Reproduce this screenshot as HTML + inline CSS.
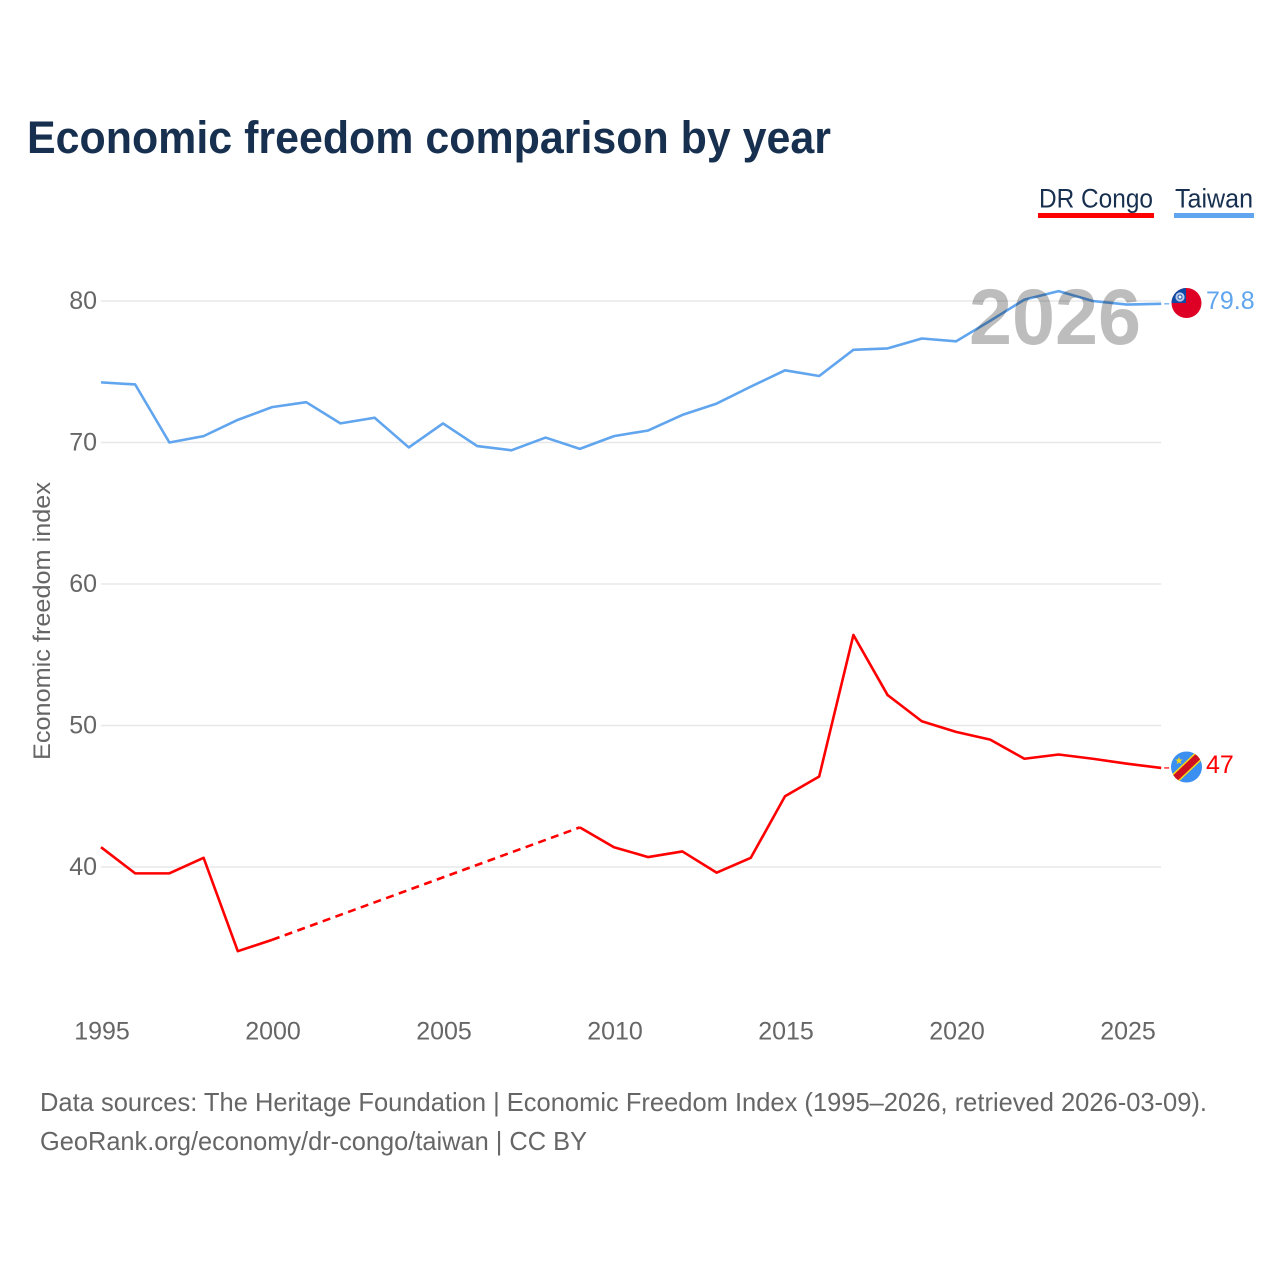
<!DOCTYPE html>
<html lang="en">
<head>
<meta charset="utf-8">
<title>Economic freedom comparison by year</title>
<style>
html,body{margin:0;padding:0;background:#fff}
svg{display:block}
text{font-family:"Liberation Sans",sans-serif}
</style>
</head>
<body>
<svg id="chart" xmlns="http://www.w3.org/2000/svg" width="1280" height="1280" viewBox="0 0 1280 1280">
  <defs>
    <clipPath id="clip-tw"><circle cx="1186.5" cy="303" r="15"/></clipPath>
    <clipPath id="clip-cd"><circle cx="1186.5" cy="767" r="15.5"/></clipPath>
  </defs>
  <rect x="0" y="0" width="1280" height="1280" fill="#fff"/>
  <text x="27" y="153" font-size="45.5" font-weight="700" fill="#18304f" textLength="804" lengthAdjust="spacingAndGlyphs">Economic freedom comparison by year</text>

  <g>
    <text x="1039" y="207.5" font-size="27" fill="#18304f" textLength="114" lengthAdjust="spacingAndGlyphs">DR Congo</text>
    <rect x="1038" y="213" width="116" height="5" fill="#ff0000"/>
  </g>
  <g>
    <text x="1175" y="207.5" font-size="27" fill="#18304f" textLength="78" lengthAdjust="spacingAndGlyphs">Taiwan</text>
    <rect x="1174" y="213" width="80" height="5" fill="#60a5ee"/>
  </g>

  <text transform="translate(50,621) rotate(-90)" text-anchor="middle" font-size="24" fill="#666" textLength="278" lengthAdjust="spacingAndGlyphs">Economic freedom index</text>

  <g id="grid"></g>
  <g id="y-ticks"></g>
  <g id="x-ticks"></g>
  <g id="series"></g>

  <text x="969" y="344" font-size="79" font-weight="700" fill="#000" fill-opacity="0.26" textLength="172" lengthAdjust="spacingAndGlyphs">2026</text>

  <g clip-path="url(#clip-tw)">
    <rect x="1170" y="287" width="33" height="33" fill="#de0025"/>
    <rect x="1170" y="287" width="16" height="16" fill="#0d4aa6"/>
    <circle cx="1180" cy="297" r="4.6" fill="#b9cbe8"/>
    <circle cx="1180" cy="297" r="2.6" fill="#2a62b4"/>
    <circle cx="1180" cy="297" r="1.5" fill="#f2f5fb"/>
  </g>
  <g clip-path="url(#clip-cd)">
    <rect x="1170" y="750" width="33" height="33" fill="#3a8ff0"/>
    <line x1="1168" y1="785" x2="1205" y2="750" stroke="#f7d618" stroke-width="10"/>
    <line x1="1168" y1="785" x2="1205" y2="750" stroke="#ce1021" stroke-width="7"/>
    <text x="1179" y="764" text-anchor="middle" font-size="10" fill="#f7d618" style="font-family:'DejaVu Sans',sans-serif">★</text>
  </g>
  <g id="end-labels"></g>

  <text x="40" y="1111" font-size="26" fill="#666" textLength="1167" lengthAdjust="spacingAndGlyphs">Data sources: The Heritage Foundation | Economic Freedom Index (1995–2026, retrieved 2026-03-09).</text>
  <text x="40" y="1150" font-size="26" fill="#666" textLength="547" lengthAdjust="spacingAndGlyphs">GeoRank.org/economy/dr-congo/taiwan | CC BY</text>
</svg>
<script>
const years = [1995,1996,1997,1998,1999,2000,2001,2002,2003,2004,2005,2006,2007,2008,2009,2010,2011,2012,2013,2014,2015,2016,2017,2018,2019,2020,2021,2022,2023,2024,2025,2026];
const taiwanValues = [74.25,74.1,70.0,70.45,71.6,72.5,72.85,71.35,71.75,69.65,71.35,69.75,69.45,70.35,69.55,70.45,70.85,71.95,72.75,73.95,75.1,74.7,76.55,76.65,77.35,77.15,78.6,80.1,80.7,80.0,79.75,79.8];
const congoValues = [41.4,39.55,39.55,40.65,34.05,34.85,null,null,null,null,null,null,null,null,42.8,41.4,40.7,41.1,39.6,40.65,45.0,46.4,56.4,52.15,50.3,49.55,49.0,47.65,47.95,47.65,47.3,47.0];
const yTickValues = [40,50,60,70,80];
const xTickValues = [1995,2000,2005,2010,2015,2020,2025];
const taiwanColor = '#60a5ee';
const congoColor = '#ff0000';

const NS = 'http://www.w3.org/2000/svg';
function xScale(year){ return 101 + (year - 1995) * 34.2; }
function yScale(value){ return 301 + (80 - value) * 14.15; }
function make(tag, parent, attrs, content){
  const el = document.createElementNS(NS, tag);
  for (const k in attrs) el.setAttribute(k, attrs[k]);
  if (content !== undefined) el.textContent = content;
  parent.appendChild(el);
  return el;
}
const gridLayer = document.getElementById('grid');
const yTickLayer = document.getElementById('y-ticks');
const xTickLayer = document.getElementById('x-ticks');
const seriesLayer = document.getElementById('series');
const labelLayer = document.getElementById('end-labels');

yTickValues.forEach(function(v){
  const line = make('line', gridLayer, {x1:xScale(1995), x2:xScale(2026), y1:yScale(v), y2:yScale(v), stroke:'#e8e8e8', 'stroke-width':1.5});
  
  
  const label = make('text', yTickLayer, {x:97, y:yScale(v) + 8, 'text-anchor':'end', 'font-size':25, fill:'#666'}, String(v));
  
  
});
xTickValues.forEach(function(v){
  const label = make('text', xTickLayer, {x:xScale(v) + 1, y:1039.5, 'text-anchor':'middle', 'font-size':25, fill:'#666'}, String(v));
  
  
});

function drawSeries(name, values, color){
  const known = [];
  values.forEach(function(v, i){ if (v !== null) known.push(i); });
  let run = [];
  function flush(){
    if (run.length > 1) {
      const solid = make('polyline', seriesLayer, {points:run.join(' '), fill:'none', stroke:color, 'stroke-width':2.6, 'stroke-linejoin':'round'});
      
      
    }
    run = [];
  }
  known.forEach(function(i, n){
    if (n > 0 && i - known[n - 1] > 1) {
      flush();
      const gap = make('line', seriesLayer, {x1:xScale(years[known[n - 1]]), y1:yScale(values[known[n - 1]]), x2:xScale(years[i]), y2:yScale(values[i]), stroke:color, 'stroke-width':2.6, 'stroke-dasharray':'8 5.5'});
      
      
    }
    run.push(xScale(years[i]) + ',' + yScale(values[i]));
  });
  flush();
  const last = values[values.length - 1];
  const leader = make('line', seriesLayer, {x1:xScale(2026) + 3, x2:xScale(2026) + 8, y1:yScale(last), y2:yScale(last), stroke:color, 'stroke-width':1.2});
  
  
  const label = make('text', labelLayer, {x:1206, y:yScale(last) + 5, 'font-size':25, fill:color}, String(last));
  
  
}
drawSeries('dr-congo', congoValues, congoColor);
drawSeries('taiwan', taiwanValues, taiwanColor);
</script>
</body>
</html>
